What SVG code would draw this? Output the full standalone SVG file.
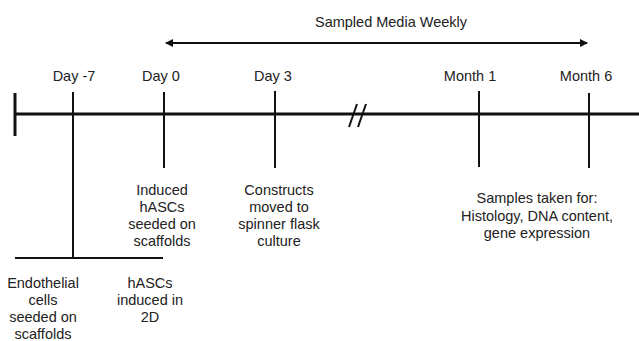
<svg xmlns="http://www.w3.org/2000/svg" width="639" height="341" viewBox="0 0 639 341">
<defs>
<marker id="ah" markerWidth="8" markerHeight="8" refX="7" refY="4" orient="auto-start-reverse" markerUnits="userSpaceOnUse">
<path d="M0,0 L8,4 L0,8 Z" fill="#111"/>
</marker>
<style>
text{font-family:"Liberation Sans",Arial,sans-serif;font-size:14.5px;fill:#222;text-anchor:middle}
.ax{stroke:#111;stroke-width:3;fill:none}
.tk{stroke:#111;stroke-width:2;fill:none}
</style>
</defs>
<rect width="639" height="341" fill="#fff"/>
<g id="connectors">
<line class="ax" x1="15" y1="114" x2="639" y2="114"/>
<line class="ax" x1="15" y1="93" x2="15" y2="136"/>
<line class="tk" x1="166" y1="43" x2="587" y2="43" marker-start="url(#ah)" marker-end="url(#ah)"/>
<line class="tk" x1="73" y1="92" x2="73" y2="258"/>
<line class="tk" x1="15" y1="258" x2="163" y2="258"/>
<line class="tk" x1="164" y1="92" x2="164" y2="168"/>
<line class="tk" x1="275" y1="91" x2="275" y2="168"/>
<line class="tk" x1="479" y1="91" x2="479" y2="167"/>
<line class="tk" x1="589" y1="93" x2="589" y2="168"/>
<line class="tk" x1="349" y1="127" x2="357" y2="104"/>
<line class="tk" x1="358" y1="127" x2="366" y2="104"/>
</g>
<g id="title"><text x="391" y="27">Sampled Media Weekly</text></g>
<g id="day-7"><text x="74" y="81">Day -7</text></g>
<g id="day0"><text x="161" y="81">Day 0</text></g>
<g id="day3"><text x="273" y="81">Day 3</text></g>
<g id="month1"><text x="470" y="81">Month 1</text></g>
<g id="month6"><text x="586" y="81">Month 6</text></g>
<g id="induced"><text x="162" y="195">Induced</text><text x="162" y="212">hASCs</text><text x="162" y="229">seeded on</text><text x="162" y="246">scaffolds</text></g>
<g id="constructs"><text x="279" y="195">Constructs</text><text x="279" y="212">moved to</text><text x="279" y="229">spinner flask</text><text x="279" y="246">culture</text></g>
<g id="samples"><text x="537" y="203">Samples taken for:</text><text x="537" y="221">Histology, DNA content,</text><text x="537" y="238">gene expression</text></g>
<g id="endothelial"><text x="43" y="288">Endothelial</text><text x="43" y="305">cells</text><text x="43" y="322">seeded on</text><text x="43" y="339">scaffolds</text></g>
<g id="hascs2d"><text x="150" y="288">hASCs</text><text x="150" y="305">induced in</text><text x="150" y="322">2D</text></g>
</svg>
